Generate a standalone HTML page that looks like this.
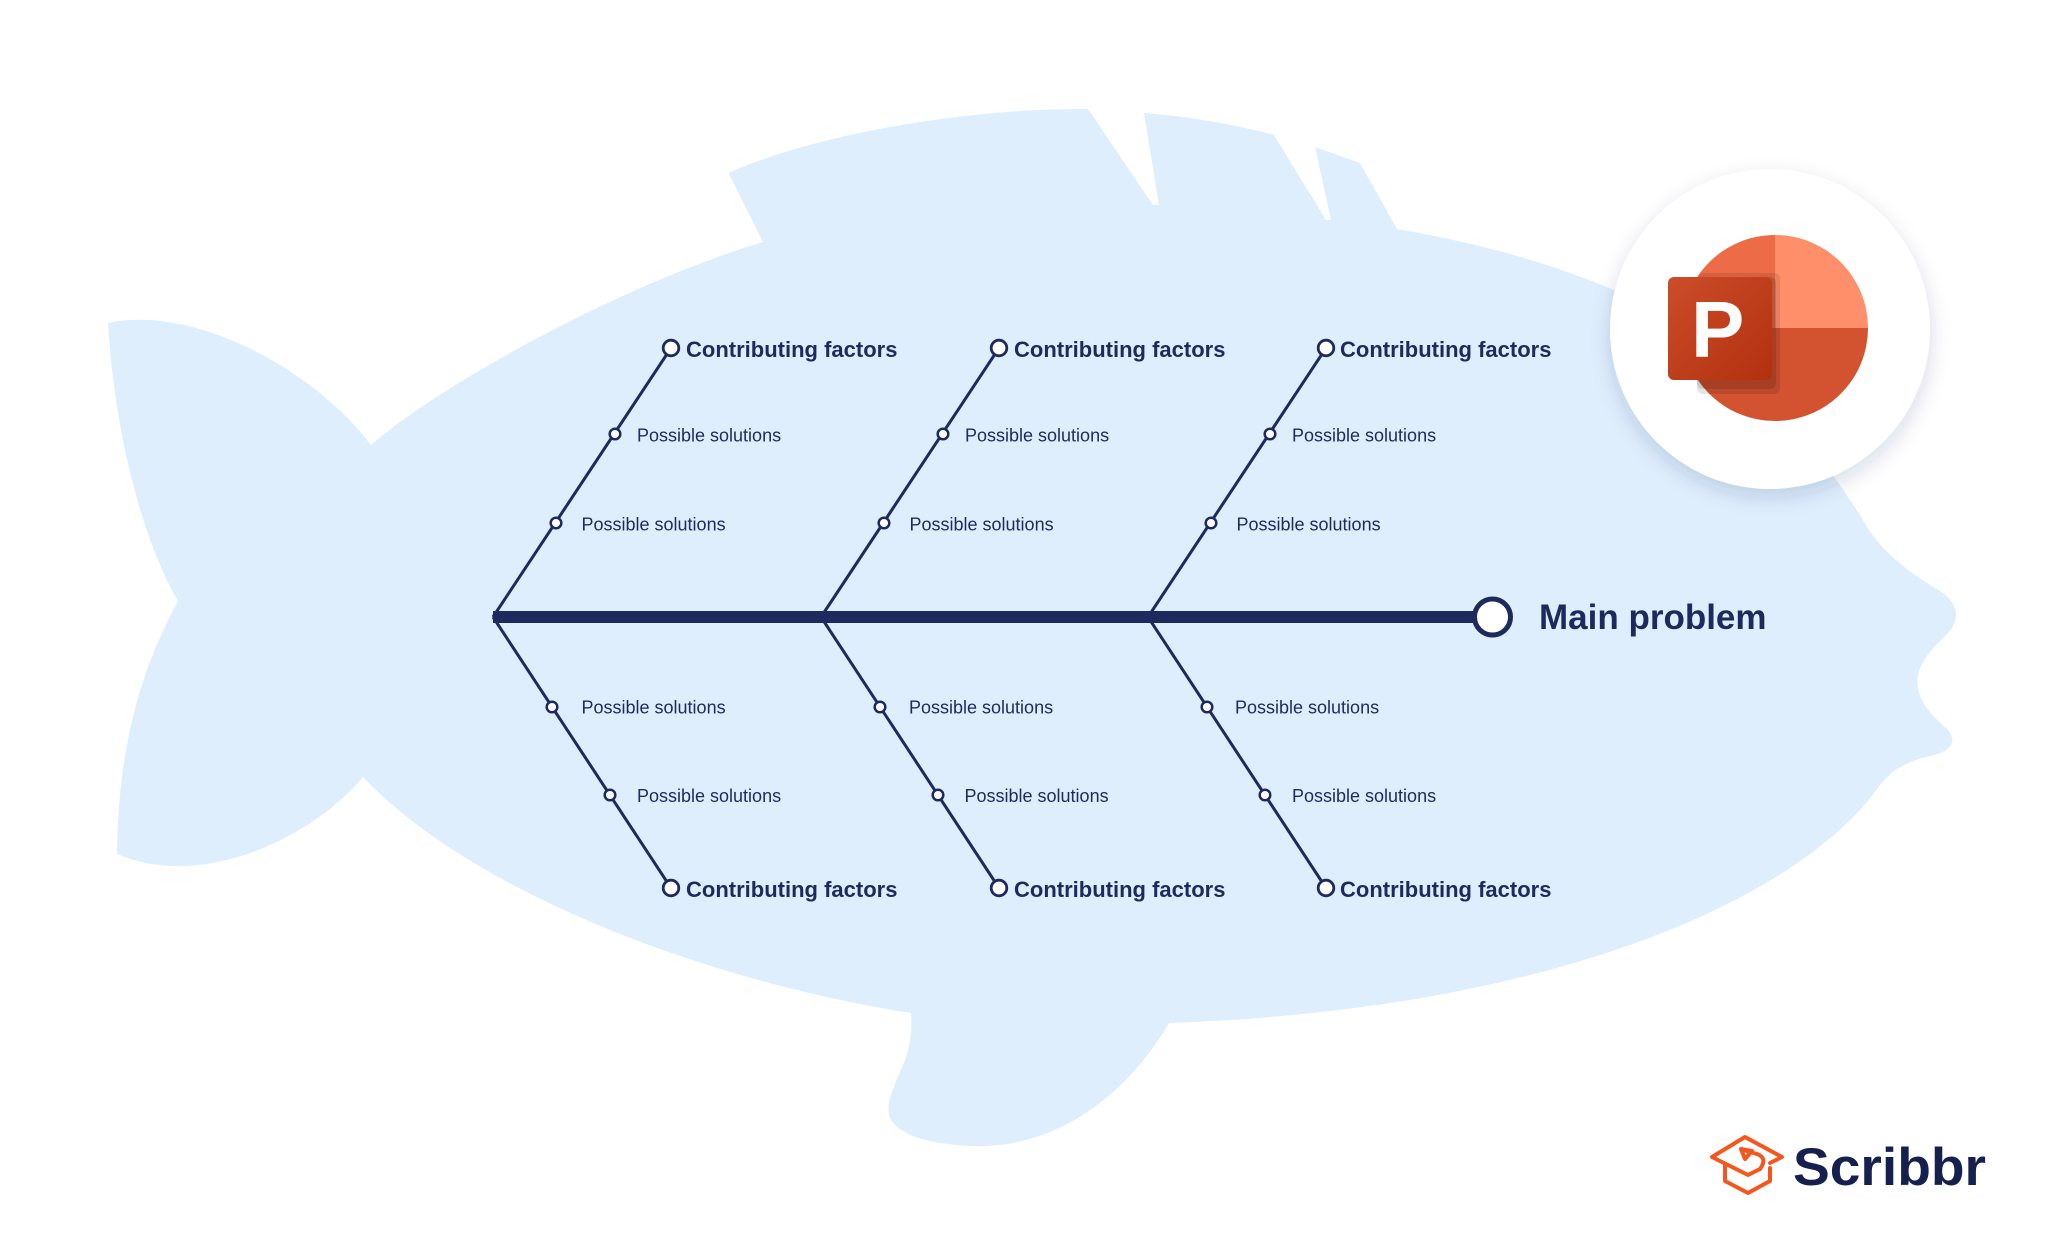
<!DOCTYPE html>
<html>
<head>
<meta charset="utf-8">
<style>
  html, body { margin: 0; padding: 0; background: #ffffff; }
  body { width: 2067px; height: 1255px; overflow: hidden; }
  svg { display: block; }
  .ps { font-family: "Liberation Sans", Arial, sans-serif; font-size: 18px; fill: #1E2A5E; }
  .cf { font-family: "Liberation Sans", Arial, sans-serif; font-size: 22px; font-weight: bold; fill: #1E2A5E; }
  .mp { font-family: "Liberation Sans", Arial, sans-serif; font-size: 35px; font-weight: bold; fill: #1E2A5E; }
</style>
</head>
<body>
<svg width="2067" height="1255" viewBox="0 0 2067 1255" xmlns="http://www.w3.org/2000/svg">
  <defs>
    <filter id="sh" x="-30%" y="-30%" width="160%" height="160%">
      <feDropShadow dx="0" dy="8" stdDeviation="10" flood-color="#1E2A5E" flood-opacity="0.16"/>
    </filter>
    <linearGradient id="pg" x1="0" y1="0" x2="1" y2="1">
      <stop offset="0" stop-color="#CB4D29"/>
      <stop offset="1" stop-color="#B3300F"/>
    </linearGradient>
  </defs>

  <!-- Fish body -->
  <path fill="#DFEEFD" d="
    M108,323
    C190,305 310,365 371,445
    C440,385 620,285 763,242
    L728.5,173
    C800,140 950,108 1088,109
    L1153,205 L1159,205 L1144,113
    Q1210,118 1274,135
    L1326,220 L1331,220 L1315,147
    L1360,163
    L1397,229
    Q1520,250 1614,290
    C1720,335 1800,420 1863,520
    C1878,548 1905,570 1935,588
    C1960,602 1962,620 1945,636
    C1925,655 1915,670 1918,688
    C1921,708 1940,722 1948,730
    C1958,742 1950,752 1930,756
    C1905,762 1892,770 1880,785
    C1800,900 1550,1010 1169,1023
    C1130,1090 1060,1150 970,1146
    C930,1144 895,1135 889,1115
    C886,1100 895,1085 905,1060
    C912,1040 912,1025 911,1013
    C700,980 470,890 363,777
    C310,840 200,890 117,854
    C118,760 135,680 178,601
    C145,545 115,440 108,323 Z"/>

  <!-- Spine -->
  <line x1="493" y1="617" x2="1478" y2="617" stroke="#1E2A5E" stroke-width="12"/>

  <!-- Branch lines -->
  <g stroke="#1E2A5E" stroke-width="3" fill="none">
    <line x1="493" y1="617" x2="671" y2="348"/>
    <line x1="493" y1="617" x2="671" y2="888"/>
    <line x1="821" y1="617" x2="999" y2="348"/>
    <line x1="821" y1="617" x2="999" y2="888"/>
    <line x1="1148" y1="617" x2="1326" y2="348"/>
    <line x1="1148" y1="617" x2="1326" y2="888"/>
  </g>

  <!-- Nodes -->
  <g stroke="#1E2A5E" fill="#ffffff">
    <!-- branch 1 -->
    <circle cx="671" cy="348" r="7.8" stroke-width="2.8"/>
    <circle cx="615" cy="434" r="5.3" stroke-width="2.5"/>
    <circle cx="556" cy="523" r="5.3" stroke-width="2.5"/>
    <circle cx="552" cy="707" r="5.3" stroke-width="2.5"/>
    <circle cx="610" cy="795" r="5.3" stroke-width="2.5"/>
    <circle cx="671" cy="888" r="7.8" stroke-width="2.8"/>
    <!-- branch 2 -->
    <circle cx="999" cy="348" r="7.8" stroke-width="2.8"/>
    <circle cx="943" cy="434" r="5.3" stroke-width="2.5"/>
    <circle cx="884" cy="523" r="5.3" stroke-width="2.5"/>
    <circle cx="880" cy="707" r="5.3" stroke-width="2.5"/>
    <circle cx="938" cy="795" r="5.3" stroke-width="2.5"/>
    <circle cx="999" cy="888" r="7.8" stroke-width="2.8"/>
    <!-- branch 3 -->
    <circle cx="1326" cy="348" r="7.8" stroke-width="2.8"/>
    <circle cx="1270" cy="434" r="5.3" stroke-width="2.5"/>
    <circle cx="1211" cy="523" r="5.3" stroke-width="2.5"/>
    <circle cx="1207" cy="707" r="5.3" stroke-width="2.5"/>
    <circle cx="1265" cy="795" r="5.3" stroke-width="2.5"/>
    <circle cx="1326" cy="888" r="7.8" stroke-width="2.8"/>
    <!-- main end -->
    <circle cx="1492.5" cy="617" r="18" stroke-width="5"/>
  </g>

  <!-- Labels -->
  <text class="cf" x="686" y="357">Contributing factors</text>
  <text class="ps" x="637" y="441.5">Possible solutions</text>
  <text class="ps" x="581.5" y="530.5">Possible solutions</text>
  <text class="ps" x="581.5" y="713.5">Possible solutions</text>
  <text class="ps" x="637" y="802">Possible solutions</text>
  <text class="cf" x="686" y="897">Contributing factors</text>

  <text class="cf" x="1014" y="357">Contributing factors</text>
  <text class="ps" x="965" y="441.5">Possible solutions</text>
  <text class="ps" x="909.5" y="530.5">Possible solutions</text>
  <text class="ps" x="909" y="713.5">Possible solutions</text>
  <text class="ps" x="964.5" y="802">Possible solutions</text>
  <text class="cf" x="1014" y="897">Contributing factors</text>

  <text class="cf" x="1340" y="357">Contributing factors</text>
  <text class="ps" x="1292" y="441.5">Possible solutions</text>
  <text class="ps" x="1236.5" y="530.5">Possible solutions</text>
  <text class="ps" x="1235" y="713.5">Possible solutions</text>
  <text class="ps" x="1292" y="802">Possible solutions</text>
  <text class="cf" x="1340" y="897">Contributing factors</text>

  <text class="mp" x="1539" y="629">Main problem</text>

  <!-- PowerPoint badge -->
  <circle cx="1770" cy="329" r="160" fill="#ffffff" filter="url(#sh)"/>
  <path d="M1775,328 L1682,328 A93,93 0 0 1 1775,235 Z" fill="#ED6C47"/>
  <path d="M1775,328 L1775,235 A93,93 0 0 1 1868,328 Z" fill="#FF8F6B"/>
  <path d="M1682,328 A93,93 0 0 0 1868,328 Z" fill="#D35230"/>
  <rect x="1697" y="273" width="83" height="121" rx="6" fill="#000000" opacity="0.1"/>
  <rect x="1697" y="277" width="79" height="112" rx="6" fill="#000000" opacity="0.12"/>
  <rect x="1668" y="277" width="104" height="103" rx="6" fill="url(#pg)"/>
  <text x="1691" y="357" font-family="Liberation Sans, Arial, sans-serif" font-size="80" font-weight="bold" fill="#ffffff">P</text>

  <!-- Scribbr logo -->
  <g fill="none" stroke="#F5561D" stroke-width="4" stroke-linejoin="round" stroke-linecap="round">
    <path d="M1770,1163 L1782,1157 L1745,1137 L1712,1157 L1748,1175 L1760,1169"/>
    <path d="M1760,1169 Q1768,1158 1757,1154 L1743,1150"/>
    <path d="M1741,1149 L1752,1151 L1745,1159 Z"/>
    <path d="M1725,1165 L1725,1181 L1748,1193 L1770,1181 L1770,1168"/>
  </g>
  <text x="1793" y="1185" font-family="Liberation Sans, Arial, sans-serif" font-size="53" font-weight="bold" fill="#16204F" textLength="193" lengthAdjust="spacingAndGlyphs">Scribbr</text>
</svg>
</body>
</html>
